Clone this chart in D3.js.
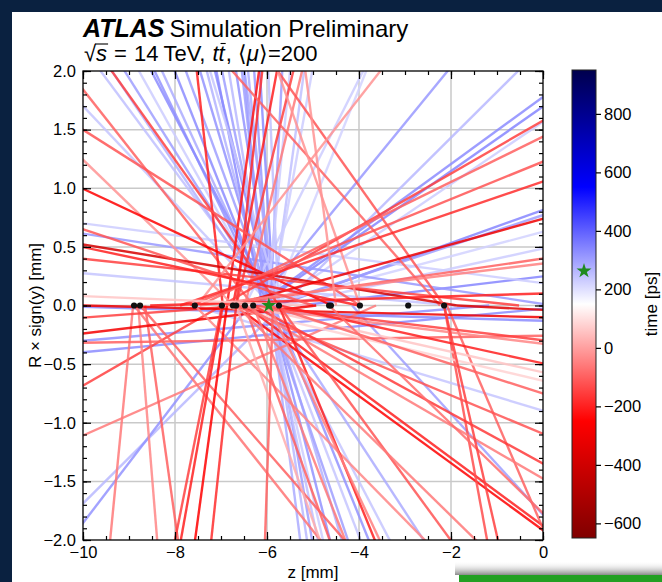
<!DOCTYPE html>
<html>
<head>
<meta charset="utf-8">
<script src="https://cdn.jsdelivr.net/npm/d3@7"></script>
<style>
  html, body { margin: 0; padding: 0; background: #0a2140; }
  svg { display: block; }
</style>
</head>
<body>
<svg id="chart" width="662" height="582"></svg>
<script>
// ---- data -------------------------------------------------------------
// reconstructed vertex positions along the beam line (z, mm), at R = 0
const vertexZ = [-8.89, -8.76, -7.57, -6.98, -6.74, -6.67, -6.48, -6.30,
                 -5.74, -4.65, -4.61, -3.98, -2.93, -2.15];
// truth hard-scatter vertex
const hsVertexZ = -5.96;
const hsVertexTime = 263;   // ps

// tracks as rays leaving R = 0: origin z (mm), slope dR/dz,
// side (+1: y > 0, drawn upwards; -1: y < 0, drawn downwards), time (ps)
const trackZ0 = [
  -5.83, -5.93, -5.89, -5.93, -5.98, -5.93, -5.98, -5.89, -5.93, -5.98,
  -5.89, -5.93, -5.98, -5.89, -5.98, -5.89, -5.93, -5.85, -5.93, -5.89,
  -5.93, -5.89, -6.24, -5.67, -6.48, -6.22, -6.17, -5.89, -5.78, -5.93,
  -6.04, -5.65, -5.28, 3.74, 0.22, -1.91, -5.90, -5.80, -6.05, -5.75,
  -6.10, -5.70, -6.00, -5.85,
  -5.67, -6.39, -7.61, -10.87, -4.15, -1.17, 0.76,
  -5.93, -5.89, -5.98, -5.93, -5.89, -5.98, -5.93, -5.85, -5.96, -5.90,
  -5.93, -6.00,
  -5.74, -6.30, -6.96, -6.67, -6.48, -6.74, -6.87, -6.67, -2.24, -3.98,
  -6.72, -4.59, -1.87, -0.52, -2.15, -3.98, -7.52, -6.98, -7.46, -7.67,
  -7.89, -6.78, -7.02, -7.46, -8.54, -5.00, -4.50, -5.00, -4.00,
  -6.98, -3.63, -8.91, -8.80, -8.65, -8.89, -6.70, -6.48, -2.15, -2.09,
  -4.93, -6.43, -10.00, 43.0, -6.30, -6.67, -5.74, -6.48, -6.98, -5.96,
  -6.67, -6.30, -6.48, -4.65, -8.76, -7.57, -6.48, -6.30, -6.67, -5.74,
  -5.96, -6.98, -6.96, -6.87, -6.67, -5.87, -5.74, -6.67, -2.15, -1.87
];
const trackSlope = [
  -0.528, -0.581, -0.624, -0.701, -0.812, -0.850, -0.987, -1.067, -1.311, -1.505,
  -1.611, -1.913, -2.354, -2.550, -3.530, -3.830, -5.740, -6.560, 7.650, 2.870,
  2.190, 0.977, 0.480, 0.390, 0.778, 0.286, 0.275, 0.266, 0.141, 0.130,
  0.104, 0.086, 0.047, -0.051, -0.060, -0.034, -0.415, -2.900, -4.500, -9.000,
  -2.000, -1.300, 4.000, -0.750,
  0.390, 0.514, -0.118, -0.012, -0.430, 0.034, 0.037,
  -3.070, -2.300, -1.840, -1.540, -1.320, -1.150, -1.020, -0.970, -1.700, -2.600,
  -0.600, -0.750,
  -0.550, -0.498, -3.530, 1.610, 1.610, 2.090, 2.870, 3.530, -0.443, -0.249,
  -0.379, -0.184, -0.064, -0.042, -0.553, -1.120, 0.502, 0.226, 0.193, 0.160,
  0.134, 0.109, 0.057, 0.048, 0.012, -0.016, -3.000, -0.130, -0.083,
  0.226, 0.174, 4.000, -4.850, -2.800, -0.494, -0.286, -0.290, -2.140, -0.910,
  0.047, 0.029, -0.010, 0.006, -0.047, -0.049, -0.086, -0.088, -0.092, -0.126,
  -0.164, -0.214, -0.228, -0.381, -0.450, -0.400, -1.085, -1.000, -1.100, -0.960,
  -0.830, 1.960, 2.190, 2.880, 3.690, 11.50, -0.536, -0.384, -1.710, -0.020
];
const trackSide = [
  1, 1, 1, 1, 1, 1, 1, 1, 1, 1,
  1, 1, 1, 1, 1, 1, 1, 1, 1, 1,
  1, 1, 1, 1, 1, 1, 1, 1, 1, 1,
  1, 1, 1, 1, 1, 1, 1, 1, 1, 1,
  1, 1, 1, 1,
  -1, -1, -1, -1, -1, -1, -1,
  -1, -1, -1, -1, -1, -1, -1, -1, -1, -1,
  -1, -1,
  1, 1, 1, 1, 1, 1, 1, 1, 1, 1,
  1, 1, 1, 1, 1, 1, 1, 1, 1, 1,
  1, 1, 1, 1, 1, 1, 1, 1, 1,
  -1, -1, -1, -1, -1, -1, -1, -1, -1, -1,
  -1, -1, -1, -1, -1, -1, -1, -1, -1, -1,
  -1, -1, -1, -1, -1, -1, -1, -1, -1, -1,
  -1, -1, -1, -1, -1, -1, -1, -1, -1, -1
];
const trackTime = [
  250, 270, 300, 230, 320, 280, 330, 300, 320, 270,
  330, 300, 260, 320, 300, 280, 310, 330, 300, 250,
  230, 220, 310, 260, 230, 330, 340, 230, 340, 300,
  220, 230, 340, 230, 310, 240, 240, 280, 300, 250,
  330, 240, 230, 330,
  260, 320, 240, 330, 300, 320, 330,
  280, 300, 250, 320, 270, 300, 240, 320, 230, 260,
  280, 240,
  -150, -100, -200, -150, -60, -200, -220, -180, -100, -120,
  -20, -250, -380, -150, -120, -20, -20, -150, -100, -120,
  -180, -300, -100, -50, -200, 60, -20, -120, -200,
  -150, -60, -60, -40, -100, -70, -250, -200, -130, -100,
  -280, -150, -300, -100, -150, -40, -200, 60, 80, -100,
  -120, -160, -60, -80, -100, -40, -100, -60, 20, -200,
  -50, -150, -200, -250, -180, -100, -120, -60, -150, -350
];

const zTicks = [-10, -8, -6, -4, -2, 0];
const rTicks = [-2.0, -1.5, -1.0, -0.5, 0.0, 0.5, 1.0, 1.5, 2.0];
const timeTicks = [-600, -400, -200, 0, 200, 400, 600, 800];
const timeRange = [-650, 950];

// ---- layout -----------------------------------------------------------
const FONT = "'Liberation Sans', Arial, Helvetica, sans-serif";
const W = 662, H = 582;
const plot = { left: 83, right: 543, top: 71, bottom: 540 };
const cbar = { left: 572, width: 24, top: 70, bottom: 538 };

const svg = d3.select("#chart");
const defs = svg.append("defs");

// white page panel on the dark frame
svg.append("rect").attr("x", 12).attr("y", 12).attr("width", W - 12).attr("height", H - 12)
  .attr("fill", "#ffffff");

const x = d3.scaleLinear().domain([-10, 0]).range([plot.left, plot.right]);
const y = d3.scaleLinear().domain([-2, 2]).range([plot.bottom, plot.top]);

// seismic (reversed) colour map
const tMid = (timeRange[0] + timeRange[1]) / 2, tSpan = timeRange[1] - timeRange[0];
const color = d3.scaleLinear()
  .domain([timeRange[0], timeRange[0] + tSpan * 0.25, tMid, timeRange[0] + tSpan * 0.75, timeRange[1]])
  .range(["#800000", "#ff0000", "#ffffff", "#0000ff", "#00004d"])
  .clamp(true);

// grid
const grid = svg.append("g").attr("stroke", "#c9c9c9").attr("stroke-width", 1.5);
zTicks.filter(v => v > -10 && v < 0).forEach(v => {
  grid.append("line").attr("x1", x(v)).attr("x2", x(v)).attr("y1", plot.top).attr("y2", plot.bottom);
});
rTicks.filter(v => v > -2 && v < 2).forEach(v => {
  grid.append("line").attr("y1", y(v)).attr("y2", y(v)).attr("x1", plot.left).attr("x2", plot.right);
});

// tracks
defs.append("clipPath").attr("id", "plotClip").append("rect")
  .attr("x", plot.left).attr("y", plot.top)
  .attr("width", plot.right - plot.left).attr("height", plot.bottom - plot.top);

const tracks = trackZ0.map((z0, i) => ({ z0, s: trackSlope[i], side: trackSide[i], t: trackTime[i] }));
function trackEnds(d) {
  const dir = Math.sign(d.side * d.s);
  let zEnd, rEnd;
  if (Math.abs(d.s) <= 1) { zEnd = d.z0 + dir * 60; rEnd = d.s * (zEnd - d.z0); }
  else { rEnd = d.side * 3; zEnd = d.z0 + rEnd / d.s; }
  return [[d.z0, 0], [zEnd, rEnd]];
}
const line = d3.line().x(p => x(p[0])).y(p => y(p[1]));

svg.append("g").attr("clip-path", "url(#plotClip)")
  .selectAll("path").data(tracks).join("path")
  .attr("d", d => line(trackEnds(d)))
  .attr("fill", "none")
  .attr("stroke", d => color(d.t))
  .attr("stroke-width", 2.4)
  .attr("stroke-opacity", 0.85);

// vertices
svg.append("g").selectAll("circle").data(vertexZ).join("circle")
  .attr("cx", d => x(d)).attr("cy", y(0)).attr("r", 3.1).attr("fill", "#111");

const star = d3.symbol().type(d3.symbolStar).size(70);
svg.append("path").attr("d", star())
  .attr("transform", `translate(${x(hsVertexZ)},${y(0)})`)
  .attr("fill", "#1f8a1f");

// axes: inward ticks on all four sides
function styleAxis(g) {
  g.select(".domain").remove();
  g.selectAll(".tick line").attr("stroke", "#000").attr("stroke-width", 1.2);
  g.selectAll(".tick text").attr("font-family", FONT).attr("font-size", 16.5).attr("fill", "#000");
}
const zMinor = d3.range(-100, 1, 5).map(v => v / 10);
const rMinor = d3.range(-20, 21, 1).map(v => v / 10);
const fmtR = d3.format(".1f"), fmtZ = d3.format("d");

svg.append("g").attr("transform", `translate(0,${plot.bottom})`)
  .call(d3.axisBottom(x).tickValues(zTicks).tickSize(-8).tickPadding(6).tickFormat(fmtZ)).call(styleAxis);
svg.append("g").attr("transform", `translate(0,${plot.bottom})`)
  .call(d3.axisBottom(x).tickValues(zMinor).tickSize(-4).tickFormat("")).call(styleAxis);
svg.append("g").attr("transform", `translate(0,${plot.top})`)
  .call(d3.axisTop(x).tickValues(zTicks).tickSize(-8).tickFormat("")).call(styleAxis);
svg.append("g").attr("transform", `translate(0,${plot.top})`)
  .call(d3.axisTop(x).tickValues(zMinor).tickSize(-4).tickFormat("")).call(styleAxis);

svg.append("g").attr("transform", `translate(${plot.left},0)`)
  .call(d3.axisLeft(y).tickValues(rTicks).tickSize(-8).tickPadding(7).tickFormat(fmtR)).call(styleAxis);
svg.append("g").attr("transform", `translate(${plot.left},0)`)
  .call(d3.axisLeft(y).tickValues(rMinor).tickSize(-4).tickFormat("")).call(styleAxis);
svg.append("g").attr("transform", `translate(${plot.right},0)`)
  .call(d3.axisRight(y).tickValues(rTicks).tickSize(-8).tickFormat("")).call(styleAxis);
svg.append("g").attr("transform", `translate(${plot.right},0)`)
  .call(d3.axisRight(y).tickValues(rMinor).tickSize(-4).tickFormat("")).call(styleAxis);

svg.append("rect").attr("x", plot.left).attr("y", plot.top)
  .attr("width", plot.right - plot.left).attr("height", plot.bottom - plot.top)
  .attr("fill", "none").attr("stroke", "#000").attr("stroke-width", 1.3);

// axis titles
svg.append("text").attr("x", (plot.left + plot.right) / 2).attr("y", 578)
  .attr("text-anchor", "middle").attr("font-family", FONT).attr("font-size", 17)
  .text("z [mm]");
svg.append("text").attr("transform", `translate(41,${(plot.top + plot.bottom) / 2}) rotate(-90)`)
  .attr("text-anchor", "middle").attr("font-family", FONT).attr("font-size", 17)
  .text("R × sign(y) [mm]");

// colour bar
const c = d3.scaleLinear().domain(timeRange).range([cbar.bottom, cbar.top]);
const grad = defs.append("linearGradient").attr("id", "cbarGrad")
  .attr("x1", 0).attr("y1", 1).attr("x2", 0).attr("y2", 0);
d3.range(0, 1.0001, 0.05).forEach(f => {
  grad.append("stop").attr("offset", f).attr("stop-color", color(timeRange[0] + f * tSpan));
});
svg.append("rect").attr("x", cbar.left).attr("y", cbar.top)
  .attr("width", cbar.width).attr("height", cbar.bottom - cbar.top)
  .attr("fill", "url(#cbarGrad)").attr("stroke", "#222").attr("stroke-width", 1);
svg.append("g").attr("transform", `translate(${cbar.left + cbar.width},0)`)
  .call(d3.axisRight(c).tickValues(timeTicks).tickSize(5).tickPadding(3).tickFormat(fmtZ))
  .call(styleAxis);
svg.append("path").attr("d", star())
  .attr("transform", `translate(${cbar.left + cbar.width / 2},${c(hsVertexTime)})`)
  .attr("fill", "#1f8a1f");
svg.append("text").attr("transform", `translate(657,${(cbar.top + cbar.bottom) / 2}) rotate(-90)`)
  .attr("text-anchor", "middle").attr("font-family", FONT).attr("font-size", 17)
  .text("time [ps]");

// titles
const t1 = svg.append("text").attr("x", 83).attr("y", 37)
  .attr("font-family", FONT).attr("font-size", 24);
t1.append("tspan").attr("font-weight", "bold").attr("font-style", "italic").attr("font-size", 25).text("ATLAS");
t1.append("tspan").attr("dx", 5).text("Simulation Preliminary");

// second line, set piece by piece so the radical bar and t-bar can be drawn
const pieces = [
  { s: "√", gap: 0 }, { s: "s", it: true, over: true, gap: 0 },
  { s: "=", gap: 7 }, { s: "14", gap: 7 }, { s: "TeV,", gap: 5 },
  { s: "t", it: true, gap: 7 }, { s: "t", it: true, bar: true, gap: 0 }, { s: ",", gap: 1 },
  { s: "⟨", gap: 6 }, { s: "μ", it: true, gap: 0 }, { s: "⟩=200", gap: 0 }
];
let cx = 84;
const baseY = 61, fs2 = 22;
pieces.forEach(p => {
  cx += p.gap;
  const el = svg.append("text").attr("x", cx).attr("y", baseY)
    .attr("font-family", FONT).attr("font-size", fs2)
    .attr("font-style", p.it ? "italic" : "normal").text(p.s);
  const w = el.node().getComputedTextLength();
  if (p.over) {
    svg.append("line").attr("x1", cx - 1).attr("x2", cx + w + 1)
      .attr("y1", baseY - 17).attr("y2", baseY - 17).attr("stroke", "#000").attr("stroke-width", 1.1);
  }
  if (p.bar) {
    svg.append("line").attr("x1", cx + 2).attr("x2", cx + w + 1)
      .attr("y1", baseY - 17.5).attr("y2", baseY - 17.5).attr("stroke", "#000").attr("stroke-width", 1.1);
  }
  cx += w;
});

// green slide element peeking in at the lower right, with its soft shadow
const sh = defs.append("linearGradient").attr("id", "shadowGrad")
  .attr("x1", 0).attr("y1", 0).attr("x2", 0).attr("y2", 1);
sh.append("stop").attr("offset", 0).attr("stop-color", "#ffffff").attr("stop-opacity", 0);
sh.append("stop").attr("offset", 1).attr("stop-color", "#8a8a8a").attr("stop-opacity", 1);
svg.append("rect").attr("x", 455).attr("y", 561).attr("width", W - 455).attr("height", 14)
  .attr("fill", "url(#shadowGrad)");
svg.append("rect").attr("x", 459).attr("y", 575).attr("width", W - 459).attr("height", 7)
  .attr("fill", "#23a023");
</script>
</body>
</html>
